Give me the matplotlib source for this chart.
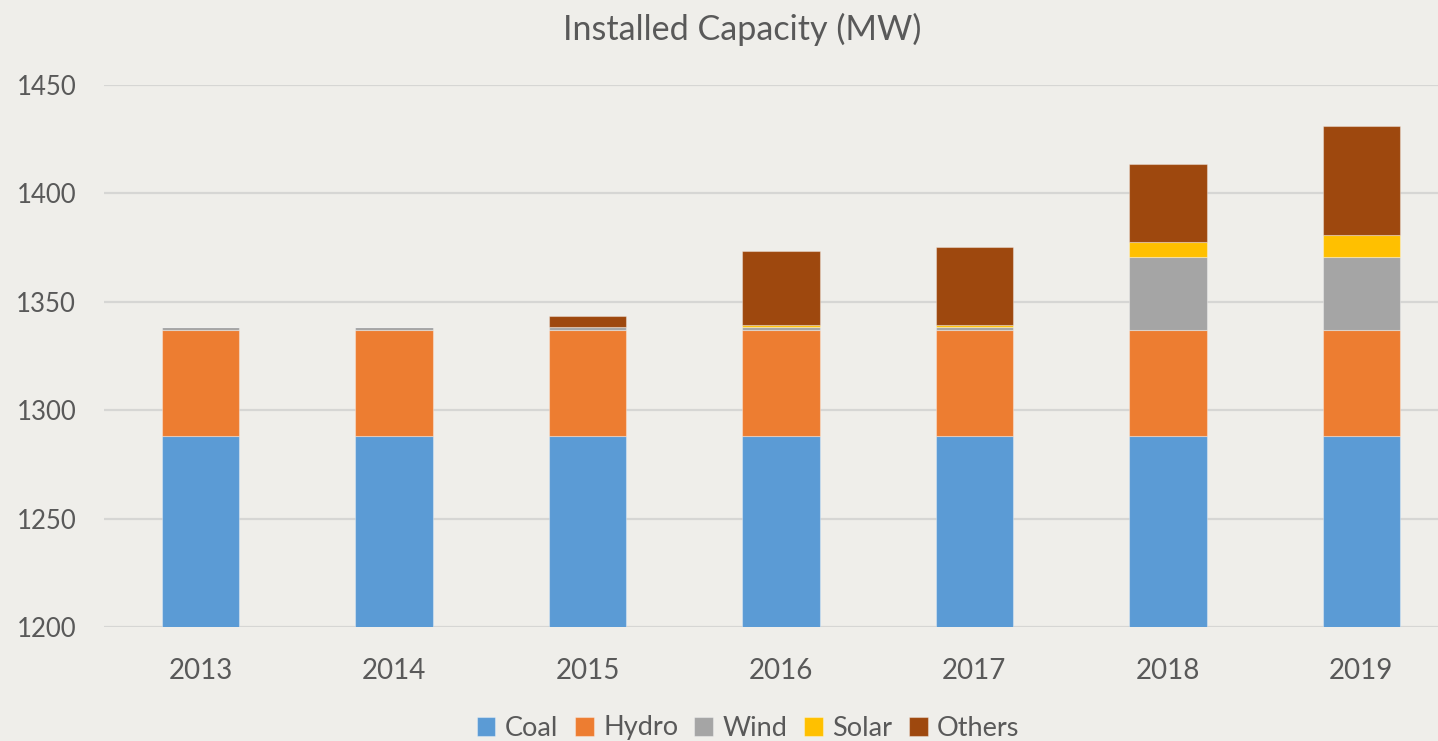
import matplotlib
matplotlib.use("Agg")
import matplotlib.pyplot as plt
import numpy as np

years = ["2013", "2014", "2015", "2016", "2017", "2018", "2019"]
coal = [1288, 1288, 1288, 1288, 1288, 1288, 1288]
hydro = [49, 49, 49, 49, 49, 49, 49]
wind = [1.5, 1.5, 1.5, 1.5, 1.5, 33.8, 33.8]
solar = [0, 0, 0, 0.8, 0.8, 6.6, 10.0]
others = [0, 0, 5.0, 34.0, 36.0, 36.2, 50.3]

series = [("Coal", coal, "#5B9BD5"), ("Hydro", hydro, "#ED7D31"),
          ("Wind", wind, "#A5A5A5"), ("Solar", solar, "#FFC000"),
          ("Others", others, "#9E480E")]

plt.rcParams['font.family'] = ['Lato', 'DejaVu Sans']
bg = "#EFEEEA"
txt = "#595959"

W, H = 1438, 741
fig = plt.figure(figsize=(W / 100, H / 100), dpi=100, facecolor=bg)
left, right, top, bottom = 104, 1458, 85, 627
ax = fig.add_axes([left / W, 1 - bottom / H, (right - left) / W, (bottom - top) / H])
ax.set_facecolor(bg)

x = np.arange(len(years))
base = np.zeros(len(years))
handles = []
for name, vals, col in series:
    v = np.array(vals, dtype=float)
    b = ax.bar(x, v, bottom=base, width=0.4, color=col, label=name, zorder=3,
               edgecolor=(1, 1, 1, 0.35), linewidth=0.8)
    handles.append(b)
    base = base + v

ax.set_xlim(-0.5, len(years) - 0.5)
ax.set_ylim(1200, 1450)
ax.set_yticks([1200, 1250, 1300, 1350, 1400, 1450])
ax.set_xticks(x)
ax.set_xticklabels(years)
ax.grid(axis='y', color="#D6D6D4", linewidth=1.6, zorder=0)
for s in ax.spines.values():
    s.set_visible(False)
ax.tick_params(axis='both', length=0, colors=txt)
ax.tick_params(axis='x', pad=22, labelsize=20)
ax.tick_params(axis='y', pad=20, labelsize=18.5)

fig.text(742 / W, 1 - 29 / H, "Installed Capacity (MW)", ha='center', va='center',
         fontsize=24.6, color=txt)

leg = fig.legend(handles=handles, loc='center', bbox_to_anchor=(748 / W, 1 - 728 / H),
                 ncol=5, frameon=False, fontsize=19.5, handlelength=0.7, handleheight=0.7,
                 handletextpad=0.35, columnspacing=0.6, labelcolor=txt)

fig.savefig("out.png", dpi=100, facecolor=bg)
